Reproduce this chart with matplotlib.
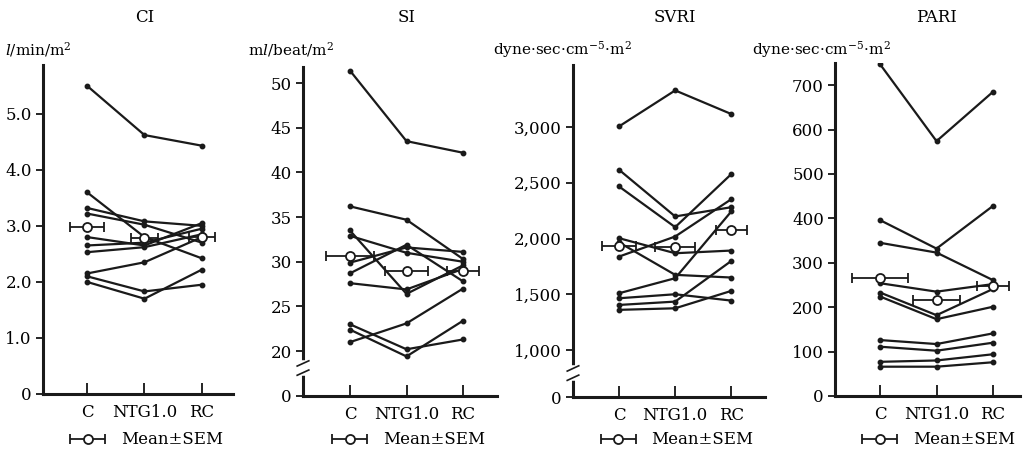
import matplotlib
matplotlib.use("Agg")
import matplotlib.pyplot as plt
from matplotlib.legend_handler import HandlerErrorbar
from matplotlib.transforms import blended_transform_factory

plt.rcParams["font.family"] = "DejaVu Serif"
plt.rcParams["mathtext.fontset"] = "dejavuserif"

categories = ["C", "NTG1.0", "RC"]

# one row per patient: C, NTG1.0, RC
ci_lines = [
    [5.50, 4.62, 4.43],
    [3.60, 2.80, 2.42],
    [3.32, 3.08, 3.00],
    [3.22, 3.02, 2.70],
    [2.80, 2.65, 3.05],
    [2.65, 2.70, 2.95],
    [2.53, 2.62, 2.85],
    [2.15, 2.35, 2.80],
    [2.10, 1.83, 1.95],
    [2.00, 1.70, 2.22],
]
ci_mean = [2.98, 2.78, 2.80]
ci_sem = [0.29, 0.24, 0.22]

si_lines = [
    [51.4, 43.5, 42.2],
    [36.2, 34.7, 30.3],
    [33.5, 26.4, 29.6],
    [32.9, 31.0, 30.0],
    [29.9, 31.6, 31.1],
    [28.7, 31.9, 27.8],
    [27.6, 26.9, 29.2],
    [23.0, 20.2, 21.3],
    [22.4, 19.4, 23.4],
    [21.0, 23.1, 27.0],
]
si_mean = [30.6, 29.0, 29.0]
si_sem = [0.42, 0.38, 0.29]

svri_lines = [
    [3006, 3329, 3117],
    [2617, 2198, 2281],
    [2467, 2102, 2578],
    [2003, 1868, 1892],
    [1838, 2018, 2353],
    [1965, 1674, 1650],
    [1509, 1644, 2243],
    [1464, 1500, 1443],
    [1404, 1434, 1799],
    [1360, 1374, 1530],
]
svri_mean = [1934, 1928, 2072]
svri_sem = [0.30, 0.36, 0.28]

pari_lines = [
    [747, 574, 685],
    [396, 332, 428],
    [345, 323, 261],
    [254, 235, 252],
    [233, 182, 241],
    [224, 173, 201],
    [126, 117, 141],
    [111, 102, 120],
    [77, 80, 94],
    [66, 66, 76],
]
pari_mean = [265, 216, 248]
pari_sem = [0.49, 0.42, 0.28]

W, H = 1026, 453
fig = plt.figure(figsize=(W / 100, H / 100), dpi=100)


def px_rect(left, right, top, bottom):
    return [left / W, 1 - bottom / H, (right - left) / W, (bottom - top) / H]


panels = [
    dict(title="CI", unit=r"$\it{l}$/min/m$^2$", unit_x=5,
         lines=ci_lines, mean=ci_mean, sem=ci_sem,
         rect=px_rect(43, 233, 65, 394), xlim=(-0.765, 2.54), ylim=(0, 5.87),
         yticks=[0, 1, 2, 3, 4, 5],
         ylabels=["0", "1.0", "2.0", "3.0", "4.0", "5.0"], brk=None),
    dict(title="SI", unit=r"m$\it{l}$/beat/m$^2$", unit_x=248,
         lines=si_lines, mean=si_mean, sem=si_sem,
         rect=px_rect(303, 497, 67, 396), xlim=(-0.83, 2.6), ylim=(14.97, 51.8),
         yticks=[14.97, 20, 25, 30, 35, 40, 45, 50],
         ylabels=["0", "20", "25", "30", "35", "40", "45", "50"], brk=0.085),
    dict(title="SVRI", unit=r"dyne·sec·cm$^{-5}$·m$^2$", unit_x=493,
         lines=svri_lines, mean=svri_mean, sem=svri_sem,
         rect=px_rect(573, 765, 65, 397), xlim=(-0.82, 2.6), ylim=(578, 3557),
         yticks=[578, 1000, 1500, 2000, 2500, 3000],
         ylabels=["0", "1,000", "1,500", "2,000", "2,500", "3,000"], brk=0.072),
    dict(title="PARI", unit=r"dyne·sec·cm$^{-5}$·m$^2$", unit_x=752,
         lines=pari_lines, mean=pari_mean, sem=pari_sem,
         rect=px_rect(835, 1020, 63, 396), xlim=(-0.80, 2.48), ylim=(0, 750),
         yticks=[0, 100, 200, 300, 400, 500, 600, 700],
         ylabels=["0", "100", "200", "300", "400", "500", "600", "700"], brk=None),
]

x = list(range(len(categories)))

for p in panels:
    ax = fig.add_axes(p["rect"])
    for vals in p["lines"]:
        ax.plot(x, vals, "-o", color="#1a1a1a", lw=1.6, ms=3.2, zorder=3)
    eb = ax.errorbar(x, p["mean"], xerr=p["sem"], fmt="o", ms=6.5,
                     mfc="white", mec="#1a1a1a", mew=1.3, color="#1a1a1a",
                     elinewidth=1.3, capsize=3.5, capthick=1.3, zorder=4)

    ax.set_xlim(*p["xlim"])
    ax.set_ylim(*p["ylim"])
    ax.set_xticks(x)
    ax.set_xticklabels(categories, fontsize=12)
    ax.set_yticks(p["yticks"])
    ax.set_yticklabels(p["ylabels"], fontsize=12)
    ax.tick_params(axis="x", direction="in", length=8, width=1.2, pad=7)
    ax.tick_params(axis="y", direction="out", length=5, width=1.2, pad=3)
    for s in ("top", "right"):
        ax.spines[s].set_visible(False)
    for s in ("left", "bottom"):
        ax.spines[s].set_linewidth(2.2)
        ax.spines[s].set_color("#1a1a1a")

    # title above the middle category, unit label at top left
    xf = (1 - p["xlim"][0]) / (p["xlim"][1] - p["xlim"][0])
    mixed = blended_transform_factory(ax.transAxes, fig.transFigure)
    ax.text(xf, 1 - 18 / H, p["title"], fontsize=12, ha="center", va="center",
            transform=mixed)
    fig.text(p["unit_x"] / W, 1 - 50 / H, p["unit"], fontsize=11, ha="left", va="center")

    if p["brk"] is not None:
        yb = p["brk"]
        ax.plot([0, 0], [yb - 0.014, yb + 0.014], transform=ax.transAxes,
                color="white", lw=4, clip_on=False, zorder=5)
        for dy in (-0.014, 0.014):
            ax.plot([-0.03, 0.03], [yb + dy - 0.008, yb + dy + 0.008],
                    transform=ax.transAxes, color="#1a1a1a", lw=1.2,
                    clip_on=False, zorder=6)

    ax.legend([eb], ["Mean±SEM"], loc="center", frameon=False, fontsize=12,
              handlelength=2.6, handletextpad=0.7,
              handler_map={type(eb): HandlerErrorbar(xerr_size=1.05)},
              bbox_to_anchor=(xf, 1 - 440 / H), bbox_transform=mixed)

fig.savefig("out.png", dpi=100)
